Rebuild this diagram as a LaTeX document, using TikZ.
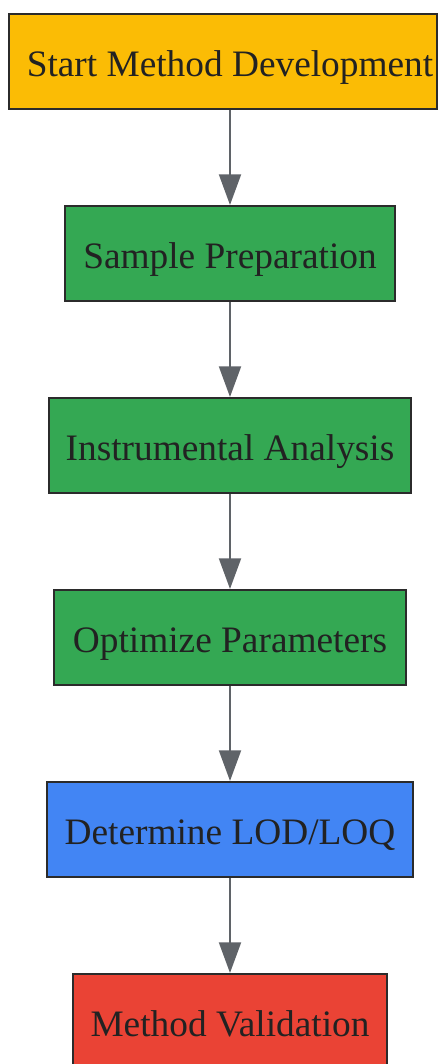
\documentclass[tikz,border=0pt]{standalone}
\usepackage{fontspec}
\setmainfont{Liberation Serif}
\usetikzlibrary{arrows.meta}

\definecolor{startyellow}{HTML}{FBBC05}
\definecolor{stepgreen}{HTML}{34A853}
\definecolor{lodblue}{HTML}{4285F4}
\definecolor{validred}{HTML}{EA4335}
\definecolor{arrowgray}{HTML}{5F6368}
\definecolor{boxline}{HTML}{2B2B2B}
\definecolor{textdark}{HTML}{222222}

\tikzset{
  stepbox/.style={draw=boxline, line width=1.5pt, rectangle, text height=46.9pt,
    text depth=24.4pt, inner sep=0pt, text=textdark, font=\fontsize{28}{33}\selectfont},
  flow/.style={draw=arrowgray, line width=1.5pt,
    -{Triangle[width=16.5pt,length=23pt]}}
}

\begin{document}
\begin{tikzpicture}[x=0.75pt,y=-0.75pt]
  \useasboundingbox (0,0) rectangle (447,1064);

  \node[stepbox, fill=startyellow, minimum width=321pt] (start) at (223,61.5) {\hspace*{10.5pt}Start Method Development};
  \node[stepbox, fill=stepgreen, minimum width=247.5pt] (prep) at (230,253.5) {Sample Preparation};
  \node[stepbox, fill=stepgreen, minimum width=271.5pt] (instr) at (230,445.5) {Instrumental Analysis};
  \node[stepbox, fill=stepgreen, minimum width=264pt] (optim) at (230,637.5) {Optimize Parameters};
  \node[stepbox, fill=lodblue, minimum width=274.5pt] (lodloq) at (230,829.5) {Determine LOD/LOQ};
  \node[stepbox, fill=validred, minimum width=235.5pt] (valid) at (230,1021.5) {Method Validation};

  \draw[flow] (start.south -| prep.north) -- (prep.north);
  \draw[flow] (prep) -- (instr);
  \draw[flow] (instr) -- (optim);
  \draw[flow] (optim) -- (lodloq);
  \draw[flow] (lodloq) -- (valid);
\end{tikzpicture}
\end{document}
